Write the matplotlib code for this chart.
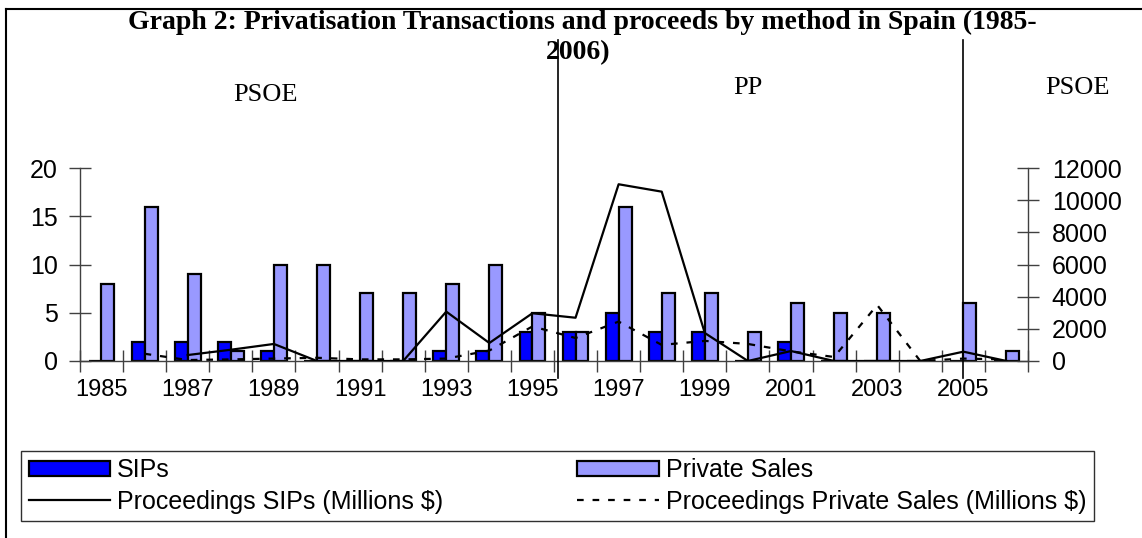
import numpy as np
import matplotlib.pyplot as plt
from matplotlib.lines import Line2D
from matplotlib.patches import Patch
from matplotlib.transforms import blended_transform_factory

years = list(range(1985, 2007))
sips = [0, 2, 2, 2, 1, 0, 0, 0, 1, 1, 3, 3, 5, 3, 3, 0, 2, 0, 0, 0, 0, 0]
private_sales = [8, 16, 9, 1, 10, 10, 7, 7, 8, 10, 5, 3, 16, 7, 7, 3, 6, 5, 5, 0, 6, 1]
proc_sips = [np.nan, np.nan, 370, 700, 1060, 0, 0, 0, 3070, 1120, 2970, 2690,
             10990, 10530, 1740, 0, 620, 0, 0, 0, 580, 0]
proc_private = [np.nan, 450, 60, 100, 150, 200, 100, 100, 150, 650, 2150, 1430,
                2450, 1000, 1250, 1060, 600, 250, 3480, 0, 150, 100]
label_years = years[::2]

x = np.arange(len(years))

fig = plt.figure(figsize=(11.42, 5.38), dpi=100)
ax = fig.add_axes([0.0700, 0.329, 0.8302, 0.3587])
ax2 = ax.twinx()

# Balken
ax.bar(x - 0.15, sips, width=0.3, color='#0000FF', edgecolor='black', linewidth=1.6)
ax.bar(x + 0.15, private_sales, width=0.3, color='#9999FF', edgecolor='black', linewidth=1.6)

# Linien auf der rechten Achse
ax2.plot(x, proc_sips, color='black', linewidth=1.6)
ax2.plot(x, proc_private, color='black', linewidth=1.6, linestyle=(0, (3, 4)))

ax.set_xlim(-0.5, len(years) - 0.5)
ax.set_ylim(0, 20)
ax2.set_ylim(0, 12000)

yfont = dict(family='Liberation Sans', size=18)
xfont = dict(family='Liberation Sans', size=17)
ax.set_yticks(range(0, 21, 5))
ax.set_yticklabels([str(v) for v in range(0, 21, 5)], **yfont)
ax2.set_yticks(range(0, 12001, 2000))
ax2.set_yticklabels([str(v) for v in range(0, 12001, 2000)], **yfont)

ax.set_xticks(np.arange(-0.5, len(years), 1.0))
ax.set_xticklabels([])
ax.set_xticks([years.index(y) for y in label_years], minor=True)
ax.set_xticklabels([str(y) for y in label_years], minor=True, **xfont)

ax.tick_params(axis='x', which='major', direction='inout', length=16, width=1, color='#404040')
ax.tick_params(axis='x', which='minor', length=0, pad=13)
ax.tick_params(axis='y', direction='inout', length=16, width=1, color='#404040', pad=8)
ax2.tick_params(axis='y', direction='inout', length=16, width=1, color='#404040', pad=9)

for s in ['top', 'right']:
    ax.spines[s].set_visible(False)
for s in ['top', 'left', 'bottom']:
    ax2.spines[s].set_visible(False)
for sp in [ax.spines['left'], ax.spines['bottom'], ax2.spines['right']]:
    sp.set_color('#404040')
    sp.set_linewidth(1)

# Trennlinien der Regierungsperioden
trans = blended_transform_factory(ax.transData, fig.transFigure)
for xv in [10.6, 20.0]:
    fig.add_artist(Line2D([xv, xv], [1 - 378 / 538, 1 - 40 / 538], transform=trans,
                          color='black', linewidth=1.2))

# Titel und Beschriftungen
serif = 'Liberation Serif'
fig.text(582 / 1142, 1 - 22 / 538, 'Graph 2: Privatisation Transactions and proceeds by method in Spain (1985-',
         ha='center', va='center', family=serif, weight='bold', size=20)
fig.text(578 / 1142, 1 - 53 / 538, '2006)', ha='center', va='center', family=serif,
         weight='bold', size=20)
fig.text(265 / 1142, 1 - 95 / 538, 'PSOE', ha='center', va='center', family=serif, size=19)
fig.text(748 / 1142, 1 - 88 / 538, 'PP', ha='center', va='center', family=serif, size=19)
fig.text(1077 / 1142, 1 - 88 / 538, 'PSOE', ha='center', va='center', family=serif, size=19)

# Rahmen
fig.add_artist(Line2D([6 / 1142, 6 / 1142], [0, 1 - 8.5 / 538], transform=fig.transFigure,
                      color='black', linewidth=1.5))
fig.add_artist(Line2D([6 / 1142, 1], [1 - 8.5 / 538, 1 - 8.5 / 538], transform=fig.transFigure,
                      color='black', linewidth=1.5))

# Legende
handles = [
    Patch(facecolor='#0000FF', edgecolor='black', linewidth=1.6, label='SIPs'),
    Line2D([], [], color='black', linewidth=1.6, label='Proceedings SIPs (Millions $)'),
    Patch(facecolor='#9999FF', edgecolor='black', linewidth=1.6, label='Private Sales'),
    Line2D([], [], color='black', linewidth=1.6, linestyle=(0, (3, 4)),
           label='Proceedings Private Sales (Millions $)'),
]
leg = fig.legend(handles=handles, ncol=2, loc='center', mode='expand',
                 bbox_to_anchor=(21 / 1142, 12 / 538, 1073 / 1142, 80 / 538),
                 prop=dict(family='Liberation Sans', size=18), handlelength=3.25,
                 handleheight=0.6, handletextpad=0.3, labelspacing=0.3, borderaxespad=0,
                 borderpad=0.3, fancybox=False, frameon=True, edgecolor='#303030',
                 framealpha=1)
leg.get_frame().set_linewidth(1)

fig.savefig('out.png', dpi=100)
